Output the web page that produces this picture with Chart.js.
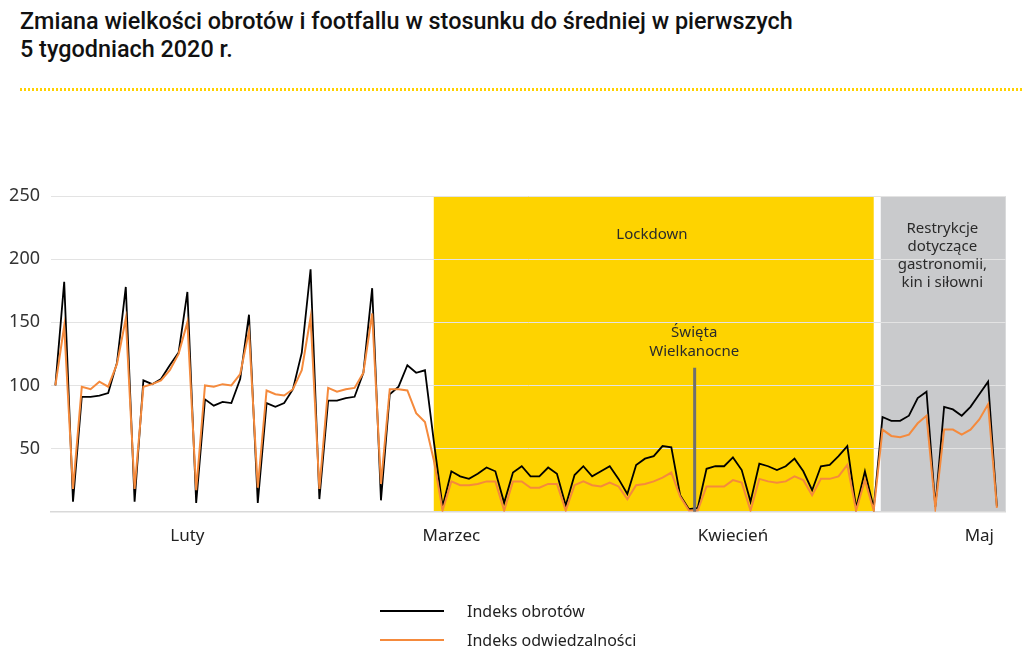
<!DOCTYPE html>
<html lang="pl">
<head>
<meta charset="utf-8">
<script src="https://cdn.jsdelivr.net/npm/chart.js@4/dist/chart.umd.min.js"></script>
<style>
  html, body { margin: 0; padding: 0; background: #fff; }
  body { width: 1024px; height: 658px; position: relative; overflow: hidden; font-family: 'Noto Sans', sans-serif; color: #1a1a1a; }
  #chart { position: absolute; left: 0; top: 0; }
  .title { position: absolute; left: 20px; top: 7px; font-family: Roboto, sans-serif; font-weight: 500; font-size: 23.4px; line-height: 28px; color: #111; }
  .dots { position: absolute; left: 20px; right: 0; top: 88px; height: 3px;
    background-image: repeating-linear-gradient(to right, #FFD200 0 2px, transparent 2px 4px); }
  .legend { position: absolute; left: 380px; top: 596px; font-size: 16px; color: #222; }
  .legend div { height: 29px; display: flex; align-items: center; }
  .legend span.line { display: inline-block; width: 64px; height: 2px; margin-right: 23px; }
</style>
</head>
<body>
<div class="title">Zmiana wielkości obrotów i footfallu w stosunku do średniej w pierwszych<br>5 tygodniach 2020 r.</div>
<div class="dots"></div>
<canvas id="chart" width="1024" height="658"></canvas>
<div class="legend">
  <div><span class="line" style="background:#000"></span>Indeks obrotów</div>
  <div><span class="line" style="background:#F58A3C"></span>Indeks odwiedzalności</div>
</div>
<script>
// daily values, 31 Jan - 17 May 2020
const turnover = [
  100, 182, 8, 91, 91, 92, 94, 118, 178, 8,
  104, 101, 105, 116, 126, 174, 7, 89, 84, 87,
  86, 105, 156, 7, 86, 83, 86, 97, 126, 192,
  10, 88, 88, 90, 91, 110, 177, 9, 93, 99,
  116, 110, 112, 56, 4, 32, 28, 26, 30, 35,
  32, 7, 31, 36, 28, 28, 35, 30, 5, 29,
  36, 28, 32, 36, 26, 14, 37, 42, 44, 52,
  51, 13, 2, 3, 34, 36, 36, 43, 33, 8,
  38, 36, 33, 36, 42, 32, 17, 36, 37, 44,
  52, 3, 32, 3, 75, 72, 72, 76, 90, 95,
  4, 83, 81, 76, 83, 93, 103, 4
];
const footfall = [
  100, 147, 18, 99, 97, 103, 99, 117, 153, 18,
  99, 101, 104, 112, 125, 150, 17, 100, 99, 101,
  100, 109, 143, 19, 96, 93, 92, 97, 112, 154,
  18, 98, 95, 97, 98, 110, 157, 22, 97, 97,
  96, 78, 71, 41, 1, 24, 21, 21, 22, 24,
  24, 1, 24, 24, 19, 19, 22, 22, 1, 21,
  24, 21, 20, 23, 20, 10, 21, 22, 24, 27,
  31, 12, 1, 1, 20, 20, 20, 25, 23, 1,
  26, 24, 23, 24, 28, 25, 13, 26, 26, 28,
  37, 1, 25, 1, 65, 60, 59, 61, 70, 76,
  3, 65, 65, 61, 65, 73, 85, 3
];
const monthLabels = ['Luty', 'Marzec', 'Kwiecień', 'Maj'];
const monthTickDays = [15, 45, 77, 105];
const yTicks = [0, 50, 100, 150, 200, 250];

// periods (day index)
const lockdown = [43, 93];
const restrictions = [93.8, 108];
const easterDay = 72.65;
const easterTop = 114;

const toPoints = arr => arr.map((v, i) => ({ x: i, y: v }));

const periods = {
  id: 'periods',
  beforeDraw(chart) {
    const { ctx, chartArea: a, scales: { x } } = chart;
    ctx.save();
    ctx.fillStyle = '#FED300';
    let x0 = x.getPixelForValue(lockdown[0]), x1 = x.getPixelForValue(lockdown[1]);
    ctx.fillRect(x0, a.top, x1 - x0, a.bottom - a.top);
    ctx.fillStyle = '#C9CACC';
    x0 = x.getPixelForValue(restrictions[0]); x1 = x.getPixelForValue(restrictions[1]);
    ctx.fillRect(x0, a.top, x1 - x0, a.bottom - a.top);
    ctx.restore();
  },
  afterDatasetsDraw(chart) {
    const { ctx, scales: { x, y } } = chart;
    ctx.save();
    ctx.strokeStyle = '#6f6f6f';
    ctx.lineWidth = 3;
    ctx.beginPath();
    ctx.moveTo(x.getPixelForValue(easterDay), y.getPixelForValue(easterTop));
    ctx.lineTo(x.getPixelForValue(easterDay), y.getPixelForValue(0));
    ctx.stroke();

    ctx.fillStyle = '#2a2a2a';
    ctx.font = '15px "Noto Sans"';
    ctx.textAlign = 'center';
    ctx.textBaseline = 'middle';
    const text = (s, dx, dy) => ctx.fillText(s, x.getPixelForValue(dx), y.getPixelForValue(dy));
    text('Lockdown', 67.8, 219);
    text('Święta', 72.6, 142);
    text('Wielkanocne', 72.6, 127);
    text('Restrykcje', 100.8, 224);
    text('dotyczące', 100.8, 210);
    text('gastronomii,', 100.8, 195.5);
    text('kin i siłowni', 100.8, 181.3);
    ctx.restore();
  }
};

Chart.defaults.font.family = '"Noto Sans", sans-serif';
Chart.defaults.color = '#333';

new Chart(document.getElementById('chart'), {
  type: 'line',
  data: {
    datasets: [
      { label: 'Indeks obrotów', data: toPoints(turnover), borderColor: '#000', borderWidth: 1.8, order: 1 },
      { label: 'Indeks odwiedzalności', data: toPoints(footfall), borderColor: '#F58A3C', borderWidth: 2, order: 0 }
    ]
  },
  options: {
    responsive: false,
    animation: false,
    events: [],
    elements: { point: { radius: 0 }, line: { tension: 0 } },
    layout: { padding: { left: 0, top: 196, right: 18.3, bottom: 0 } },
    plugins: { legend: { display: false }, tooltip: { enabled: false } },
    scales: {
      x: {
        type: 'linear',
        min: -0.5,
        max: 108,
        afterFit: s => { s.height = 146.3; },
        afterBuildTicks: s => { s.ticks = monthTickDays.map(v => ({ value: v })); },
        grid: { display: false, drawTicks: false },
        border: { color: '#d9d9d9', width: 1.5 },
        ticks: {
          autoSkip: false,
          maxRotation: 0,
          padding: 14,
          font: { size: 17 },
          color: '#222',
          callback: v => monthLabels[monthTickDays.indexOf(v)]
        }
      },
      y: {
        min: 0,
        max: 250,
        afterFit: s => { s.width = 51; },
        afterBuildTicks: s => { s.ticks = yTicks.map(v => ({ value: v })); },
        grid: { color: '#e3e3e3', drawTicks: false },
        border: { display: false },
        ticks: {
          padding: 11,
          font: { size: 18 },
          color: '#333',
          callback: v => v === 0 ? '' : v
        }
      }
    }
  },
  plugins: [periods]
});
</script>
</body>
</html>
